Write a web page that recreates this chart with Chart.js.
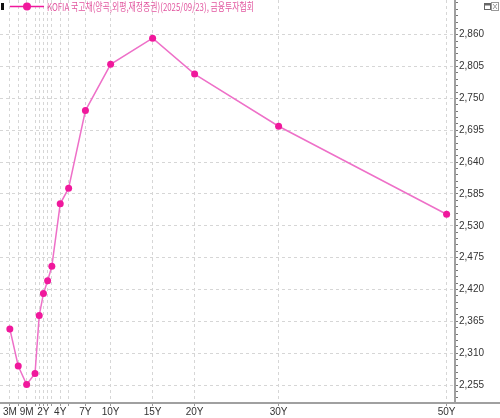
<!DOCTYPE html>
<html>
<head>
<meta charset="utf-8">
<script src="https://cdn.jsdelivr.net/npm/chart.js@4.4.1/dist/chart.umd.min.js"></script>
<style>
  body { margin: 0; background: #fff; }
  #wrap { width: 500px; height: 418px; }
</style>
</head>
<body>
<div id="wrap"><canvas id="curve" width="500" height="418"></canvas></div>
<script>
// 만기 / 위치 / 수익률
const tenors = ['3M', '6M', '9M', '1Y', '1.5Y', '2Y', '2.5Y', '3Y', '4Y', '5Y', '7Y', '10Y', '15Y', '20Y', '30Y', '50Y'];
const tenorPos = [-2, -1, 0, 1, 1.5, 2, 2.5, 3, 4, 5, 7, 10, 15, 20, 30, 50];
const yields = [2.352, 2.288, 2.256, 2.275, 2.375, 2.413, 2.435, 2.460, 2.568, 2.595, 2.729, 2.809, 2.854, 2.792, 2.702, 2.550];
const labelledTenors = ['3M', '9M', '2Y', '4Y', '7Y', '10Y', '15Y', '20Y', '30Y', '50Y'];
const yMajorTicks = [2.255, 2.310, 2.365, 2.420, 2.475, 2.530, 2.585, 2.640, 2.695, 2.750, 2.805, 2.860];
const seriesLabel = 'KOFIA 국고채(양곡,외평,재정증권)(2025/09/23), 금융투자협회';

const lineColor = '#ee70c8';
const dotColor = '#f0189c';

const isMajor = v => yMajorTicks.some(t => Math.abs(t - v) < 1e-6);

// legend drawn over the plot, top-left, plus the little window buttons
const overlay = {
    id: 'overlay',
    afterDraw(chart) {
        const ctx = chart.ctx;
        const area = chart.chartArea;
        ctx.save();
        // x axis line continues under the y labels
        ctx.strokeStyle = '#a0a0a0';
        ctx.lineWidth = 2;
        ctx.beginPath();
        ctx.moveTo(area.right, area.bottom);
        ctx.lineTo(chart.width, area.bottom);
        ctx.stroke();

        ctx.fillStyle = '#111';
        ctx.fillRect(1, 3, 3, 7);
        ctx.strokeStyle = dotColor;
        ctx.lineWidth = 1.5;
        ctx.beginPath();
        ctx.moveTo(10, 6.5);
        ctx.lineTo(44, 6.5);
        ctx.stroke();
        ctx.fillStyle = dotColor;
        ctx.beginPath();
        ctx.arc(27, 6.5, 4, 0, Math.PI * 2);
        ctx.fill();
        ctx.fillStyle = '#e2569f';
        ctx.font = '11px "Noto Sans CJK KR"';
        ctx.textBaseline = 'middle';
        ctx.fillText(chart.data.datasets[0].label, 47, 6.5, 207);

        // 창 버튼
        ctx.strokeStyle = '#666';
        ctx.lineWidth = 1;
        ctx.strokeRect(484.5, 3.5, 6, 6);
        ctx.fillStyle = '#666';
        ctx.fillRect(484.5, 3.5, 6, 2);
        ctx.strokeStyle = '#999';
        ctx.strokeRect(491.5, 2.5, 7, 8);
        ctx.beginPath();
        ctx.moveTo(493, 4); ctx.lineTo(497, 9);
        ctx.moveTo(497, 4); ctx.lineTo(493, 9);
        ctx.stroke();
        ctx.restore();
    }
};

new Chart(document.getElementById('curve'), {
    type: 'line',
    data: {
        datasets: [{
            label: seriesLabel,
            data: tenorPos.map((p, i) => ({ x: p, y: yields[i] })),
            borderColor: lineColor,
            borderWidth: 1.5,
            pointRadius: 3.5,
            pointBackgroundColor: dotColor,
            pointBorderWidth: 0,
            tension: 0
        }]
    },
    options: {
        responsive: false,
        animation: false,
        layout: { padding: 0, autoPadding: false },
        plugins: {
            legend: { display: false },
            tooltip: { enabled: false }
        },
        scales: {
            x: {
                type: 'linear',
                min: -3.17,
                max: 51.0,
                afterBuildTicks: scale => {
                    scale.ticks = tenorPos.map(v => ({ value: v }));
                },
                afterFit: scale => {
                    scale.height = 15;
                    scale.paddingLeft = 0;
                    scale.paddingRight = 0;
                },
                ticks: {
                    autoSkip: false,
                    maxRotation: 0,
                    padding: 0,
                    color: '#333',
                    font: { family: 'Liberation Sans', size: 10 },
                    callback: v => {
                        const t = tenors[tenorPos.indexOf(v)];
                        return labelledTenors.includes(t) ? t : '';
                    }
                },
                grid: {
                    color: '#d6d6d6',
                    tickColor: '#999',
                    tickLength: 3
                },
                border: { color: '#a0a0a0', width: 2, dash: [3, 3] }
            },
            y: {
                position: 'right',
                min: 2.224,
                max: 2.920,
                afterBuildTicks: scale => {
                    const ticks = [];
                    for (let k = -2; k <= 60; k++) {
                        ticks.push({ value: Math.round((2.255 + k * 0.011) * 1000) / 1000 });
                    }
                    scale.ticks = ticks.filter(t => t.value <= 2.920);
                },
                afterFit: scale => {
                    scale.width = 45;
                    scale.paddingTop = 0;
                    scale.paddingBottom = 0;
                },
                ticks: {
                    autoSkip: false,
                    padding: 1,
                    color: '#333',
                    font: { family: 'Liberation Sans', size: 10 },
                    callback: v => isMajor(v) ? v.toFixed(3).replace('.', ',') : ''
                },
                grid: {
                    color: c => (c.tick && isMajor(c.tick.value)) ? '#d6d6d6' : 'rgba(0,0,0,0)',
                    tickColor: '#777',
                    tickLength: 3
                },
                border: { color: '#a0a0a0', width: 2, dash: [3, 3] }
            }
        }
    },
    plugins: [overlay]
});
</script>
</body>
</html>
